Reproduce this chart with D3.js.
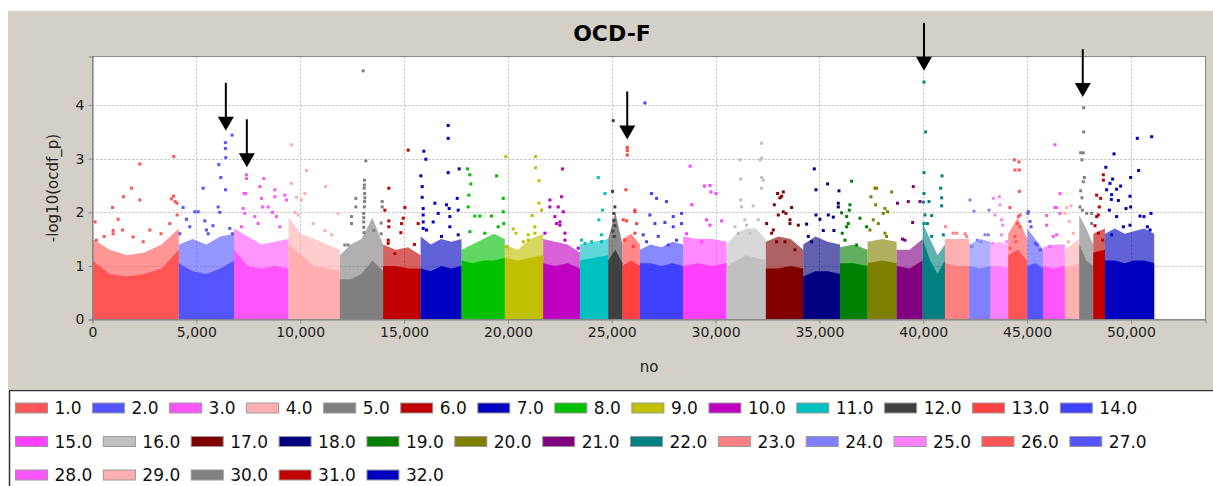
<!DOCTYPE html>
<html>
<head>
<meta charset="utf-8">
<script src="https://cdn.jsdelivr.net/npm/d3@7"></script>
<style>
  body { margin: 0; background: #fff; }
  svg { display: block; }
  text { font-family: "DejaVu Sans", sans-serif; }
</style>
</head>
<body>
<svg id="chart" width="1213" height="486"></svg>
<script>
// chromosome groups along the "no" axis
const chromLabels = d3.range(1, 33).map((d) => d.toFixed(1));
const chromBounds = [0, 4156, 6820, 9440, 11910, 13995, 15798, 17770, 19855, 21700, 23467,
  24830, 25520, 26355, 28440, 30530, 32420, 34220, 35990, 37320, 38720, 39970, 41045,
  42215, 43245, 44090, 45010, 45780, 46820, 47510, 48185, 48750, 51120];

// top of the dense (solid) band, read left to right inside each group
const solidTop = [
  [1.1, 0.85, 0.8, 0.85, 0.95, 1.3], [1.05, 0.9, 0.85, 0.95, 1.1], [1.3, 1.0, 0.95, 1.0, 0.95],
  [1.4, 1.2, 1.0, 0.95, 0.9], [0.75, 0.75, 0.85, 1.1, 0.9], [1.0, 1.0, 0.95, 0.95],
  [0.95, 0.9, 1.0, 0.95, 1.0], [1.1, 1.05, 1.1, 1.1, 1.15], [1.15, 1.1, 1.15, 1.2],
  [1.05, 1.0, 1.05, 0.95], [1.1, 1.15, 1.2], [1.1, 1.3, 1.05], [1.0, 1.1, 1.0],
  [1.05, 1.05, 1.0, 1.05, 1.0], [1.0, 1.05, 1.0, 1.05], [1.0, 1.1, 1.2, 1.15, 1.1],
  [0.95, 0.95, 1.0, 0.95], [0.8, 0.9, 0.9, 0.85], [1.05, 1.05, 1.0], [1.05, 1.1, 1.05],
  [1.0, 0.95, 1.1], [1.5, 1.1, 0.85, 1.1], [1.05, 1.0, 1.0], [1.0, 0.95, 1.0],
  [1.0, 1.0, 0.95], [1.2, 1.3, 1.1], [1.0, 1.05, 0.95], [1.0, 0.95, 1.0],
  [0.95, 1.0, 1.05], [1.4, 1.1, 1.0], [1.25, 1.3], [1.1, 1.1, 1.05, 1.1, 1.1, 1.05]
];

// top of the looser cloud above the band
const cloudTop = [
  [1.5, 1.3, 1.2, 1.25, 1.4, 1.7], [1.4, 1.5, 1.4, 1.55, 1.6], [1.7, 1.55, 1.4, 1.45, 1.5],
  [1.9, 1.6, 1.5, 1.4, 1.3], [1.2, 1.4, 1.5, 1.9, 1.4], [1.4, 1.3, 1.35, 1.2],
  [1.55, 1.4, 1.5, 1.45, 1.5], [1.3, 1.4, 1.5, 1.6, 1.5], [1.4, 1.3, 1.5, 1.6],
  [1.5, 1.45, 1.4, 1.25], [1.4, 1.45, 1.5], [1.5, 2.0, 1.4], [1.5, 1.6, 1.4],
  [1.3, 1.4, 1.35, 1.45, 1.4], [1.55, 1.5, 1.5, 1.45], [1.4, 1.6, 1.7, 1.7, 1.5],
  [1.45, 1.55, 1.5, 1.3], [1.4, 1.55, 1.45, 1.4], [1.35, 1.4, 1.3], [1.45, 1.5, 1.45],
  [1.3, 1.3, 1.5], [1.8, 1.5, 1.2, 1.4], [1.5, 1.5, 1.5], [1.4, 1.5, 1.45],
  [1.4, 1.45, 1.4], [1.6, 1.9, 1.5], [1.7, 1.5, 1.3], [1.35, 1.4, 1.4],
  [1.3, 1.4, 1.5], [1.95, 1.7, 1.4], [1.6, 1.7], [1.6, 1.7, 1.6, 1.65, 1.7, 1.6]
];

// single points standing above the band: [no, -log10(p)]
const hits = [
  [3915, 3.04], [2278, 2.90], [1877, 2.45], [1490, 2.29], [2278, 2.23], [3800, 2.25], [3900, 2.30],
  [3980, 2.20], [4060, 2.17], [963, 2.09], [125, 1.82], [1233, 1.87], [2760, 1.67], [1445, 1.67],
  [992, 1.60], [992, 1.66], [1955, 1.54], [4075, 1.95], [3720, 1.79], [190, 1.48], [2440, 1.45],
  [560, 1.55], [3300, 1.60],
  [6723, 3.44], [6400, 3.30], [6400, 3.19], [6418, 3.02], [6081, 2.89], [6178, 2.65], [5327, 2.45],
  [6402, 2.42], [6050, 2.10], [6130, 2.00], [4364, 2.09], [4930, 2.01], [5090, 2.01], [4524, 1.87],
  [5407, 1.84], [4685, 1.73], [4203, 1.60], [6611, 1.70], [6740, 1.60], [5487, 1.67], [5568, 1.60],
  [5800, 1.75],
  [7414, 2.70], [7414, 2.63], [7300, 2.35], [7380, 2.35], [8248, 2.63], [8055, 2.48], [8136, 2.26],
  [8180, 2.10], [8778, 2.42], [8778, 2.29], [9260, 2.32], [9340, 2.23], [8457, 2.10], [8665, 2.00],
  [7253, 2.07], [7333, 1.98], [7815, 1.92], [7975, 1.79], [8858, 1.92], [9018, 1.73], [7173, 1.73],
  [9580, 3.26], [9580, 2.54], [10305, 2.78], [11220, 2.48], [11830, 1.98], [9823, 2.28], [10225, 2.35],
  [10064, 2.23], [9743, 2.00], [9904, 1.95], [10626, 1.79], [11188, 1.66], [11509, 1.58],
  [13033, 4.64], [13162, 2.96], [13100, 2.60], [13090, 2.51], [13080, 2.45], [13100, 2.35],
  [13110, 2.27], [13100, 2.20], [13090, 2.10], [13060, 1.98], [13060, 1.90], [13060, 1.82],
  [13060, 1.72], [13070, 1.62], [12680, 2.26], [12680, 2.10], [12470, 1.92], [12470, 1.79],
  [13948, 2.20], [13948, 2.10], [13547, 1.66], [12150, 1.39], [12310, 1.39], [13900, 1.80], [13900, 1.60],
  [15200, 3.16], [14269, 2.45], [14077, 2.04], [15040, 2.09], [14269, 1.84], [14269, 1.73], [14960, 1.89],
  [14880, 1.79], [14237, 1.48], [14237, 1.42], [14558, 1.23], [14847, 1.62], [15681, 1.79], [15500, 1.40],
  [17126, 3.62], [17126, 3.38], [17126, 2.74], [15955, 3.14], [16050, 2.99], [17656, 2.81], [15810, 2.68],
  [15874, 2.48], [15874, 2.28], [16484, 2.17], [17046, 2.14], [17174, 2.07], [17560, 2.26], [17608, 2.04],
  [15922, 2.07], [15922, 1.95], [15922, 1.82], [15922, 1.70], [16645, 1.98], [16404, 1.82], [17206, 1.92],
  [17206, 1.73], [16805, 1.55], [17608, 1.58], [16082, 1.67],
  [18057, 2.81], [18169, 2.70], [18217, 2.53], [19453, 2.68], [18121, 2.32], [18089, 2.10], [18410, 1.93],
  [19212, 1.93], [18650, 1.93], [18169, 1.64], [18890, 1.61], [19533, 1.73], [19776, 2.26], [19776, 2.01],
  [19800, 1.79],
  [19900, 3.04], [21333, 3.04], [21333, 2.83], [21494, 2.59], [21494, 2.17], [21622, 2.04], [21173, 1.94],
  [20258, 1.69], [21301, 1.73], [21301, 1.61], [20386, 1.61], [20980, 1.58], [20980, 1.48], [20740, 1.45],
  [19937, 1.36],
  [22633, 2.81], [22023, 2.23], [22023, 2.10], [22585, 2.29], [22425, 2.10], [22666, 2.01], [22264, 1.92],
  [22345, 1.79], [22505, 1.82], [22505, 1.76], [21783, 1.61], [22746, 1.61], [22746, 1.48], [23388, 1.33],
  [24351, 2.65], [24672, 2.35], [24559, 2.04], [24383, 1.86], [24511, 1.58], [24511, 1.45], [23548, 1.48],
  [23709, 1.42], [24030, 1.45],
  [25073, 3.71], [25041, 2.39], [25153, 2.10], [25100, 1.98], [25100, 1.85], [25150, 1.75], [25060, 1.65],
  [25120, 1.55],
  [25747, 3.21], [25747, 3.15], [25747, 3.07], [25683, 2.42], [26117, 2.04], [26117, 2.01], [25560, 1.86],
  [25715, 1.84], [26197, 1.79], [26117, 1.61], [25635, 1.48], [26037, 1.36],
  [26598, 4.04], [26919, 2.35], [27160, 2.26], [27641, 2.20], [26839, 1.95], [27080, 1.79], [27561, 1.81],
  [27962, 1.92], [27962, 1.73], [28363, 1.98], [28363, 1.79], [26517, 1.58], [26678, 1.45], [27240, 1.55],
  [27721, 1.39], [28122, 1.48],
  [28774, 2.86], [29463, 2.49], [29730, 2.50], [29778, 2.38], [30019, 2.35], [28854, 2.14], [29335, 1.45],
  [29569, 1.86], [29730, 1.76], [30292, 1.84], [28600, 1.60],
  [32217, 3.29], [32217, 3.01], [32137, 2.98], [31174, 2.98], [31206, 2.62], [32217, 2.65], [32298, 2.60],
  [32217, 2.45], [31206, 2.23], [31254, 2.10], [31816, 2.12], [31415, 1.86], [31495, 1.76], [32057, 1.86],
  [30934, 1.73], [31094, 1.61], [31656, 1.61],
  [32988, 2.35], [33181, 2.30], [33261, 2.38], [33100, 2.27], [32827, 2.14], [33261, 2.01], [33389, 1.98],
  [33662, 2.09], [33020, 1.95], [33582, 1.86], [33582, 1.79], [32458, 1.79], [32780, 1.67], [32699, 1.61],
  [33983, 1.76], [32940, 1.45], [33341, 1.45], [33823, 1.30],
  [34753, 2.81], [34834, 2.42], [35395, 2.53], [35941, 2.40], [35909, 2.17], [35909, 2.10], [34834, 1.95],
  [35026, 1.87], [35427, 1.95], [35668, 1.91], [34384, 1.78], [35187, 1.66], [35700, 1.66], [34464, 1.55],
  [34625, 1.45],
  [36551, 2.58], [36471, 2.14], [36439, 2.04], [36070, 1.99], [36310, 1.92], [36390, 1.79], [36310, 1.73],
  [36952, 1.89], [37273, 1.73], [36100, 1.61], [36230, 1.48], [36792, 1.39],
  [37675, 2.45], [37755, 2.45], [37482, 2.29], [38477, 2.38], [37707, 2.14], [38156, 2.07], [38284, 2.01],
  [38076, 1.98], [37594, 1.86], [37835, 1.79], [38156, 1.61], [38236, 1.55], [37434, 1.67],
  [38760, 2.17], [39280, 2.20], [39520, 2.48], [39488, 1.81], [39119, 1.48], [39842, 2.20], [39000, 1.50],
  [40035, 4.43], [40115, 3.50], [40035, 2.74], [40902, 2.68], [40838, 2.45], [40886, 2.27], [40886, 2.12],
  [40035, 2.35], [40003, 2.19], [40276, 2.20], [40083, 1.95], [40404, 1.94], [40040, 1.79], [40200, 1.79],
  [40966, 1.58], [40404, 1.55],
  [41080, 1.73], [41447, 1.61], [41608, 1.61], [42009, 1.60], [42090, 1.55],
  [42250, 2.23], [42443, 2.02], [43165, 2.04], [42972, 1.58], [43133, 1.58], [42600, 1.48], [42780, 1.45],
  [42330, 1.36],
  [43374, 2.26], [43662, 2.29], [43694, 2.14], [43775, 1.86], [43823, 1.76], [43454, 1.95], [43775, 1.58],
  [43342, 1.42], [44020, 1.45],
  [44385, 2.98], [44610, 2.94], [44417, 2.79], [44625, 2.79], [44625, 2.39], [44176, 2.09], [44658, 1.95],
  [44578, 1.92], [44530, 1.79], [44658, 1.73], [44417, 1.55], [44465, 1.45], [44176, 1.33],
  [45059, 2.01], [45040, 1.98], [45140, 1.83], [45190, 1.73], [45400, 1.42], [45480, 1.39], [45640, 1.30],
  [46343, 3.26], [46583, 2.35], [46343, 2.09], [46423, 2.09], [45942, 1.94], [45942, 1.76], [46423, 1.58],
  [46263, 1.55], [46583, 1.98], [46102, 1.36],
  [47113, 2.12], [46905, 2.09], [46840, 1.98], [47033, 1.83], [47226, 1.61], [46985, 1.45],
  [47723, 3.95], [47723, 3.50], [47579, 3.11], [47707, 3.11], [47640, 2.98], [47756, 2.65], [47707, 2.57],
  [47579, 2.40], [47640, 2.27], [47547, 2.10], [47660, 2.04], [47868, 1.98], [48108, 1.98], [48108, 1.79],
  [48670, 2.70], [48670, 2.60], [48349, 2.32], [48541, 2.26], [48477, 2.10], [48430, 1.95], [48349, 1.92],
  [48270, 1.75], [48430, 1.61], [48640, 1.48],
  [51000, 3.41], [50307, 3.38], [49184, 3.09], [50371, 2.78], [48790, 2.84], [49986, 2.65], [49119, 2.62],
  [48991, 2.54], [49505, 2.49], [49310, 2.43], [48830, 2.42], [49070, 2.33], [49055, 2.24], [49954, 2.30],
  [49395, 2.22], [49762, 2.07], [49986, 2.10], [50965, 1.98], [50435, 1.93], [50628, 1.92], [48959, 2.04],
  [49310, 1.92], [49954, 1.76], [50790, 1.73], [50920, 1.67], [49634, 1.73], [49070, 1.58]
];

// arrow tips drawn on the figure: [no, -log10(p)]
const arrowTips = [[6420, 3.52], [7431, 2.84], [25747, 3.36], [40035, 4.64], [47680, 4.15]];

const xTicks = d3.range(0, 50001, 5000);
const yTicks = [0, 1, 2, 3, 4];

const palette = ['#FF5555', '#5555FF', '#FF55FF', '#FFAFAF', '#808080', '#C00000', '#0000C0',
  '#00C000', '#C0C000', '#C000C0', '#00C0C0', '#404040', '#FF4040', '#4040FF', '#FF40FF',
  '#C0C0C0', '#800000', '#000080', '#008000', '#808000', '#800080', '#008080', '#FF8080',
  '#8080FF', '#FF80FF'];
const colorOf = (i) => palette[i % palette.length];

const svg = d3.select('#chart');

const plot = { left: 92.5, right: 1205.5, top: 56.5, bottom: 319.5 };

const x = d3.scaleLinear().domain([0, 53590]).range([plot.left, plot.right]);
const y = d3.scaleLinear().domain([0, 4.907]).range([plot.bottom, plot.top]);

// chart panel background
svg.append('rect')
  .attr('x', 8).attr('y', 11).attr('width', 1205).attr('height', 378)
  .attr('fill', '#D4D0C8');

svg.append('rect')
  .attr('x', plot.left).attr('y', plot.top)
  .attr('width', plot.right - plot.left).attr('height', plot.bottom - plot.top)
  .attr('fill', '#fff');

// grid
const grid = svg.append('g').attr('stroke', '#b8b8b8').attr('stroke-dasharray', '2,2');
grid.selectAll('.gx').data(xTicks).enter().append('line')
  .attr('x1', (d) => Math.round(x(d)) + 0.5).attr('x2', (d) => Math.round(x(d)) + 0.5)
  .attr('y1', plot.top).attr('y2', plot.bottom);
grid.selectAll('.gy').data(yTicks).enter().append('line')
  .attr('x1', plot.left).attr('x2', plot.right)
  .attr('y1', (d) => Math.round(y(d)) + 0.5).attr('y2', (d) => Math.round(y(d)) + 0.5);

const marks = svg.append('g');

// loose cloud above the dense band
const area = d3.area()
  .x((d) => x(d[0]))
  .y0(y(0))
  .y1((d) => y(d[1]));

const profile = (vals, i) => {
  const start = chromBounds[i];
  const end = chromBounds[i + 1];
  return vals.map((v, j) => [start + ((end - start) * j) / (vals.length - 1), v]);
};

marks.selectAll('.cloud').data(cloudTop).enter().append('path')
  .attr('d', (d, i) => area(profile(d, i)))
  .attr('fill', (d, i) => colorOf(i))
  .attr('fill-opacity', 0.62);

marks.selectAll('.solid').data(solidTop).enter().append('path')
  .attr('d', (d, i) => area(profile(d, i)))
  .attr('fill', (d, i) => colorOf(i));

const chromOf = (n) => Math.max(0, d3.bisectRight(chromBounds, n) - 1);

marks.selectAll('.hit').data(hits).enter().append('rect')
  .attr('x', (d) => x(d[0]) - 1.5)
  .attr('y', (d) => y(d[1]) - 1.5)
  .attr('width', 3).attr('height', 3)
  .attr('fill', (d) => colorOf(chromOf(d[0])));

// plot outline
svg.append('rect')
  .attr('x', plot.left).attr('y', plot.top)
  .attr('width', plot.right - plot.left).attr('height', plot.bottom - plot.top)
  .attr('fill', 'none').attr('stroke', '#888');

// axes
const xAxis = d3.axisBottom(x).tickValues(xTicks).tickSize(4).tickPadding(4)
  .tickFormat(d3.format(','));
const yAxis = d3.axisLeft(y).tickValues(yTicks).tickSize(4).tickPadding(4)
  .tickFormat(d3.format('d'));

const gx = svg.append('g').attr('transform', `translate(0,${plot.bottom})`).call(xAxis);
const gy = svg.append('g').attr('transform', `translate(${plot.left},0)`).call(yAxis);
[gx, gy].forEach((g) => {
  g.select('.domain').attr('stroke', '#888');
  g.selectAll('.tick line').attr('stroke', '#888');
  g.selectAll('.tick text')
    .attr('fill', '#222')
    .style('font-family', '"DejaVu Sans", sans-serif')
    .style('font-size', '14px');
});

svg.append('text')
  .attr('x', (plot.left + plot.right) / 2).attr('y', 372)
  .attr('text-anchor', 'middle')
  .style('font-size', '15px').attr('fill', '#222')
  .text('no');

svg.append('text')
  .attr('transform', `translate(58,${(plot.top + plot.bottom) / 2}) rotate(-90)`)
  .attr('text-anchor', 'middle')
  .style('font-size', '15px').attr('fill', '#222')
  .text('-log10(ocdf_p)');

svg.append('text')
  .attr('x', 612).attr('y', 41)
  .attr('text-anchor', 'middle')
  .style('font-size', '22px').style('font-weight', 'bold')
  .text('OCD-F');

// arrows pointing at the hits
const arrows = svg.append('g');
arrowTips.forEach(([n, v]) => {
  const ax = x(n);
  const ty = y(v);
  arrows.append('line')
    .attr('x1', ax).attr('x2', ax)
    .attr('y1', ty - 48).attr('y2', ty - 12)
    .attr('stroke', '#000').attr('stroke-width', 2);
  arrows.append('path')
    .attr('d', `M${ax - 8},${ty - 14}L${ax + 8},${ty - 14}L${ax},${ty}Z`)
    .attr('fill', '#000');
});

// legend
svg.append('rect')
  .attr('x', 9.5).attr('y', 390.5).attr('width', 1210).attr('height', 100)
  .attr('fill', '#fff').attr('stroke', '#333').attr('stroke-width', 1.5);

const legend = svg.append('g').style('font-family', '"Liberation Sans", Arial, sans-serif');
let lx = 15.5;
let row = 0;
chromLabels.forEach((label, i) => {
  const t = legend.append('text')
    .style('font-size', '17px').attr('fill', '#111')
    .text(label);
  const tw = t.node().getComputedTextLength();
  const adv = 39 + tw + 11;
  if (lx + adv > 1165) {
    lx = 15.5;
    row += 1;
  }
  const cy = 408 + row * 33.5;
  legend.append('rect')
    .attr('x', lx).attr('y', cy - 5)
    .attr('width', 32).attr('height', 10)
    .attr('fill', colorOf(i)).attr('stroke', '#999');
  t.attr('x', lx + 39).attr('y', cy + 6);
  lx += adv;
});
</script>
</body>
</html>
